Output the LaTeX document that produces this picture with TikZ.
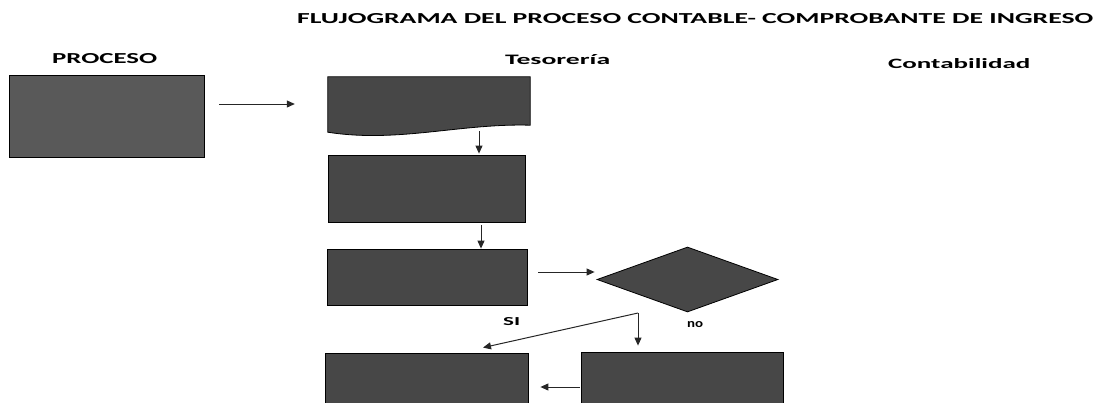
\documentclass[tikz,border=0pt]{standalone}
\usepackage{fontspec}
\setmainfont{Carlito}
\usetikzlibrary{arrows.meta,shapes.geometric,calc}
\newcommand{\fittext}[3]{\resizebox{#1}{#2}{\bfseries #3}}
\begin{document}
\begin{tikzpicture}[x=1pt,y=-1pt,
  box/.style={draw=black, line width=0.8pt, fill=black!72, inner sep=0pt, rectangle},
  conn/.style={draw=black!85, line width=1pt, -{Triangle[length=8pt,width=7pt]}},
  lbl/.style={inner sep=0pt, anchor=base west}]
\path[use as bounding box] (0,0) rectangle (1097,402);
\clip (0,0) rectangle (1097,402);

% titles
\node[lbl] (title) at (297,23) {\fittext{796pt}{10pt}{FLUJOGRAMA DEL PROCESO CONTABLE- COMPROBANTE DE INGRESO}};
\node[lbl] (hproc) at (52,63) {\fittext{105pt}{10pt}{PROCESO}};
\node[lbl] (htes) at (505,64) {\fittext{105pt}{10pt}{Tesorería}};
\node[lbl] (hcon) at (888,68) {\fittext{142pt}{10pt}{Contabilidad}};

% shapes
\node[box, minimum width=195pt, minimum height=82pt, fill=black!65] (proc) at (106.5,116) {};
\node[minimum width=202pt, minimum height=60pt, inner sep=0pt] (doc) at (429,107) {};
\path[box] (doc.north west) -- (doc.north east) -- ([yshift=12pt]doc.south east)
  .. controls ([xshift=-70pt,yshift=14pt]doc.south east) and ([xshift=70pt,yshift=-6pt]doc.south west)
  .. ([yshift=5pt]doc.south west) -- cycle;
\node[box, minimum width=197pt, minimum height=67pt] (b2) at (426.5,188.5) {};
\node[box, minimum width=200pt, minimum height=56pt] (b3) at (427,277) {};
\node[box, diamond, minimum width=181pt, minimum height=65pt] (dia) at (687.5,279.5) {};
\node[box, minimum width=203pt, minimum height=62pt] (b4) at (426.5,384) {};
\node[box, minimum width=202pt, minimum height=63pt] (b5) at (682,383.5) {};
\coordinate (br) at (638,313);

% connectors
\draw[conn, shorten <=15pt, shorten >=33pt] ([yshift=12pt]proc.east) -- ([yshift=12pt]proc.east -| doc.west);
\draw[conn] ([xshift=50pt,yshift=6pt]doc.south) -- ([xshift=50pt,yshift=1pt]doc.south |- b2.north);
\draw[conn] ([xshift=54.5pt,yshift=-3pt]b2.south) -- ([xshift=54.5pt]b2.south |- b3.north);
\draw[conn, shorten <=11pt, shorten >=2pt] ([yshift=5pt]b3.east) -- ([yshift=5pt]b3.east -| dia.west);
\draw[conn] (br) -- ([xshift=56.5pt,yshift=5pt]b4.north);
\draw[conn] (br) -- ([xshift=-44pt,yshift=6pt]b5.north);
\draw[conn, shorten <=1pt, shorten >=12pt] ([yshift=-3.5pt]b5.west) -- ([yshift=-3.5pt]b5.west -| b4.east);

% branch labels
\node[lbl] (lsi) at (503,325) {\fittext{17pt}{8pt}{SI}};
\node[lbl] (lno) at (687,327) {\fittext{16pt}{6pt}{no}};
\end{tikzpicture}
\end{document}
